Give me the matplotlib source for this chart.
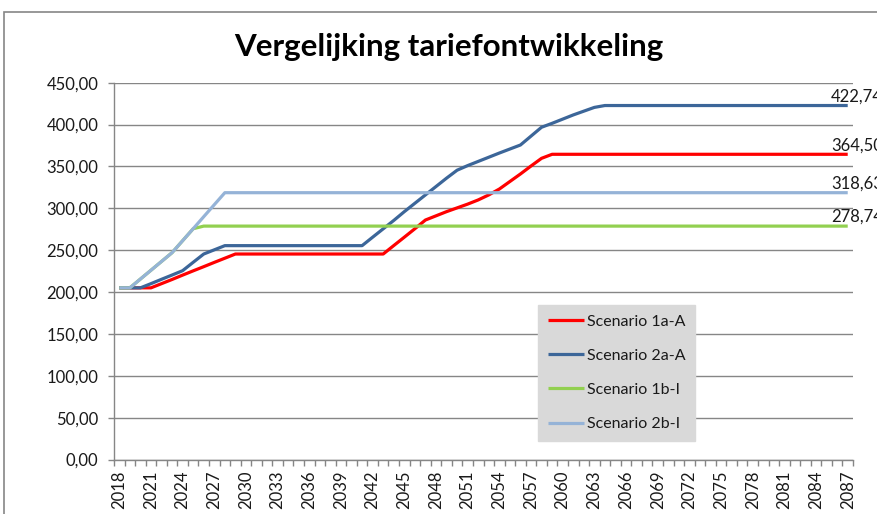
import numpy as np
import matplotlib.pyplot as plt
from matplotlib.patches import Rectangle
from matplotlib.ticker import FuncFormatter, FixedLocator

plt.rcParams['font.family'] = ['Lato', 'DejaVu Sans']

# Data (years 2018 .. 2087)
years = list(range(2018, 2088))

scen_1a_A = [205.0, 205.0, 205.0, 205.0, 210.0, 215.0, 220.2, 225.3, 230.3, 235.4,
             240.4, 245.4, 245.4, 245.4, 245.4, 245.4, 245.4, 245.4, 245.4, 245.4,
             245.4, 245.4, 245.4, 245.4, 245.4, 245.4, 255.5, 265.5, 275.6, 286.0,
             291.0, 296.0, 300.5, 305.0, 310.0, 316.0, 323.0, 332.0, 341.0, 350.5,
             359.7, 364.5, 364.5, 364.5, 364.5, 364.5, 364.5, 364.5, 364.5, 364.5,
             364.5, 364.5, 364.5, 364.5, 364.5, 364.5, 364.5, 364.5, 364.5, 364.5,
             364.5, 364.5, 364.5, 364.5, 364.5, 364.5, 364.5, 364.5, 364.5, 364.5]

scen_2a_A = [205.0, 205.0, 205.0, 210.0, 215.2, 220.3, 225.5, 235.5, 245.4, 250.4,
             255.4, 255.4, 255.4, 255.4, 255.4, 255.4, 255.4, 255.4, 255.4, 255.4,
             255.4, 255.4, 255.4, 255.4, 265.5, 275.5, 285.5, 296.0, 306.0, 316.0,
             326.0, 336.0, 345.5, 351.0, 356.0, 361.0, 366.0, 370.8, 375.6, 386.2,
             396.8, 401.5, 406.5, 411.5, 416.0, 420.5, 422.74, 422.74, 422.74, 422.74,
             422.74, 422.74, 422.74, 422.74, 422.74, 422.74, 422.74, 422.74, 422.74, 422.74,
             422.74, 422.74, 422.74, 422.74, 422.74, 422.74, 422.74, 422.74, 422.74, 422.74]

scen_1b_I = [205.0, 205.0, 215.5, 226.0, 236.5, 247.0, 261.3, 275.6, 278.74, 278.74,
             278.74, 278.74, 278.74, 278.74, 278.74, 278.74, 278.74, 278.74, 278.74, 278.74,
             278.74, 278.74, 278.74, 278.74, 278.74, 278.74, 278.74, 278.74, 278.74, 278.74,
             278.74, 278.74, 278.74, 278.74, 278.74, 278.74, 278.74, 278.74, 278.74, 278.74,
             278.74, 278.74, 278.74, 278.74, 278.74, 278.74, 278.74, 278.74, 278.74, 278.74,
             278.74, 278.74, 278.74, 278.74, 278.74, 278.74, 278.74, 278.74, 278.74, 278.74,
             278.74, 278.74, 278.74, 278.74, 278.74, 278.74, 278.74, 278.74, 278.74, 278.74]

scen_2b_I = [205.0, 205.0, 215.5, 226.0, 236.5, 247.0, 261.3, 275.6, 290.0, 304.3,
             318.63, 318.63, 318.63, 318.63, 318.63, 318.63, 318.63, 318.63, 318.63, 318.63,
             318.63, 318.63, 318.63, 318.63, 318.63, 318.63, 318.63, 318.63, 318.63, 318.63,
             318.63, 318.63, 318.63, 318.63, 318.63, 318.63, 318.63, 318.63, 318.63, 318.63,
             318.63, 318.63, 318.63, 318.63, 318.63, 318.63, 318.63, 318.63, 318.63, 318.63,
             318.63, 318.63, 318.63, 318.63, 318.63, 318.63, 318.63, 318.63, 318.63, 318.63,
             318.63, 318.63, 318.63, 318.63, 318.63, 318.63, 318.63, 318.63, 318.63, 318.63]

series = [("Scenario 1a-A", scen_1a_A, "#ff0000"),
          ("Scenario 2a-A", scen_2a_A, "#3c6699"),
          ("Scenario 1b-I", scen_1b_I, "#92d050"),
          ("Scenario 2b-I", scen_2b_I, "#95b3d7")]

grey = "#868686"

fig = plt.figure(figsize=(8.77, 5.14), dpi=100)

# Chart area border (the image cuts it off on the right and bottom)
fig.patches.append(Rectangle((4 / 877, -0.1), 1.0, 1 - 12 / 514 + 0.1,
                             transform=fig.transFigure, fill=False,
                             edgecolor=grey, linewidth=1.2))

ax = fig.add_axes([114 / 877, 1 - 459.5 / 514, (853 - 114) / 877, (459.5 - 82.7) / 514])

x = np.arange(len(years))
for name, vals, col in series:
    ax.plot(x, vals, color=col, linewidth=2.3, label=name, solid_capstyle='butt')

# Value labels on the last point
for name, vals, col in series:
    ax.annotate(f"{vals[-1]:.2f}".replace('.', ','), (x[-1], vals[-1]),
                xytext=(-12, 3), textcoords='offset points',
                ha='left', va='baseline', fontsize=12, color='#1a1a1a',
                annotation_clip=False)

ax.set_xlim(-0.5, len(years) - 0.5)
ax.set_ylim(0, 450)

# Y axis
ax.set_yticks(np.arange(0, 451, 50))
ax.yaxis.set_major_formatter(FuncFormatter(lambda v, p: f"{v:.2f}".replace('.', ',')))
ax.grid(axis='y', color=grey, linewidth=1)
ax.set_axisbelow(True)

# X axis: labels every 3 years, tick marks at category boundaries
ax.set_xticks(x[::3])
ax.set_xticklabels([str(y) for y in years[::3]], rotation=90)
ax.xaxis.set_minor_locator(FixedLocator(np.arange(-0.5, len(years), 1.0)))
ax.tick_params(axis='x', which='major', length=0, pad=8)
ax.tick_params(axis='x', which='minor', length=4, color=grey, width=1)
ax.tick_params(axis='y', length=4.3, color=grey, width=1, pad=7)
ax.tick_params(labelsize=12, labelcolor='#1a1a1a')

for s in ['top', 'right']:
    ax.spines[s].set_visible(False)
for s in ['left', 'bottom']:
    ax.spines[s].set_color(grey)
    ax.spines[s].set_linewidth(1)

fig.text(448.5 / 877, 1 - 47 / 514, "Vergelijking tariefontwikkeling",
         ha='center', va='center', fontsize=22.5, fontweight='bold', color='black')

leg = ax.legend(loc='upper left', bbox_to_anchor=((538 - 114) / 739, (459.5 - 305) / 376.8),
                frameon=True, fancybox=False, fontsize=11.5, handlelength=2.3,
                handletextpad=0.15, labelspacing=1.25, borderpad=0.6, borderaxespad=0)
leg.get_frame().set_facecolor('#d9d9d9')
leg.get_frame().set_edgecolor('#d9d9d9')
leg.get_frame().set_alpha(1)
for t in leg.get_texts():
    t.set_color('#1a1a1a')

fig.savefig("out.png", dpi=100)
